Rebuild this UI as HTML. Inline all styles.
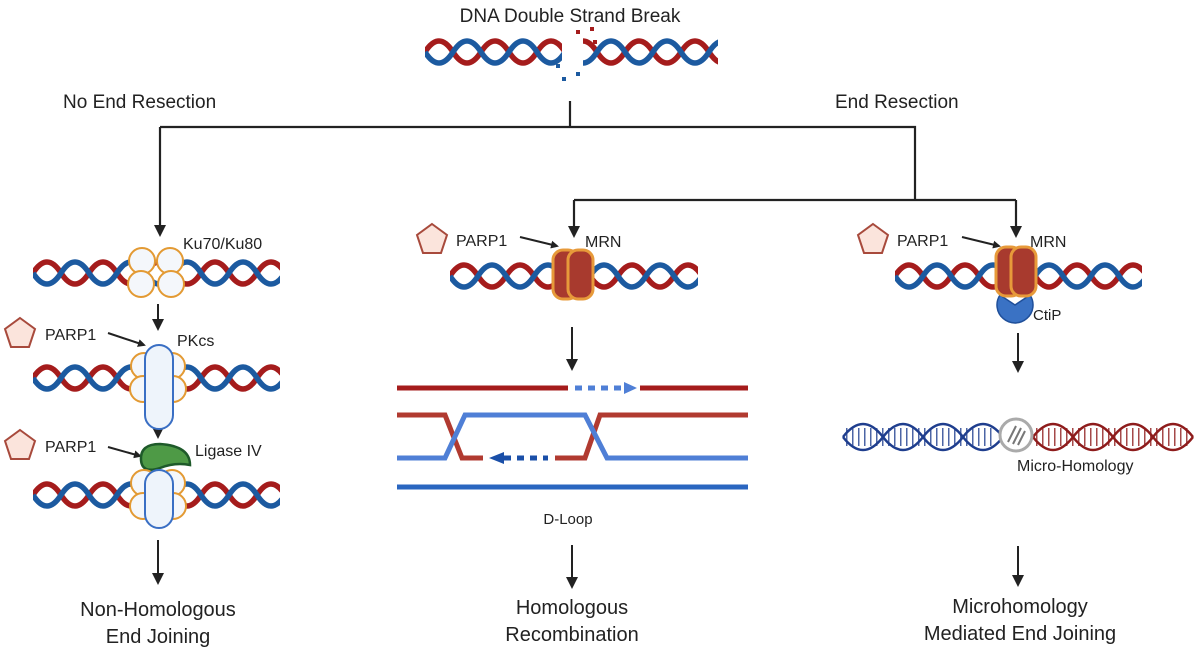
<!DOCTYPE html>
<html><head><meta charset="utf-8"><style>
html,body{margin:0;padding:0;background:#fff;}
svg{display:block;}
text{font-family:"Liberation Sans",sans-serif;fill:#222;}
</style></head><body>
<svg width="1200" height="653" viewBox="0 0 1200 653" xmlns="http://www.w3.org/2000/svg">
<defs>
<marker id="ah" markerWidth="8" markerHeight="8" refX="6" refY="4" orient="auto" markerUnits="userSpaceOnUse"><path d="M0,0 L8,4 L0,8 z" fill="#222"/></marker>
<marker id="ah2" markerWidth="12" markerHeight="12" refX="9" refY="6" orient="auto" markerUnits="userSpaceOnUse"><path d="M0,0 L12,6 L0,12 z" fill="#222"/></marker>
<g id="hx" fill="none" stroke-width="5.5">
<path stroke="#a51c1c" d="M0,0 q14,-22 28,0 t28,0 t28,0 t28,0 t28,0 t28,0 t28,0 t28,0 t28,0 t28,0"/>
<path stroke="#1c5aa0" d="M0,0 q14,22 28,0 t28,0 t28,0 t28,0 t28,0 t28,0 t28,0 t28,0 t28,0 t28,0"/>
</g>
<polygon id="pent" points="0,-16 15,-5 9,13 -9,13 -15,-5" fill="#fbe4dc" stroke="#a84a3c" stroke-width="2"/>
<g id="ku" fill="#f4f7fb" stroke="#e39a33" stroke-width="2">
<circle cx="-14" cy="-11" r="13"/><circle cx="14" cy="-11" r="13"/>
<circle cx="-15" cy="12" r="13"/><circle cx="15" cy="12" r="13"/>
</g>
<g id="mrn">
<rect x="-19" y="-25" width="25" height="49" rx="10" fill="#a83a2e" stroke="#e79a3a" stroke-width="3"/>
<rect x="-4" y="-25" width="25" height="49" rx="10" fill="#a83a2e" stroke="#e79a3a" stroke-width="3"/>
</g>
</defs>

<!-- Top -->
<text x="570" y="22" font-size="19" text-anchor="middle">DNA Double Strand Break</text>
<svg x="425" y="25" width="137" height="55" overflow="hidden"><use href="#hx" x="0" y="27"/></svg>
<svg x="583" y="25" width="135" height="55" overflow="hidden"><use href="#hx" x="-14" y="27"/></svg>
<g fill="#a51c1c"><rect x="576" y="30" width="4" height="4"/><rect x="590" y="27" width="4" height="4"/><rect x="593" y="40" width="4" height="4"/></g>
<g fill="#1c5aa0"><rect x="556" y="64" width="4" height="4"/><rect x="562" y="77" width="4" height="4"/><rect x="576" y="72" width="4" height="4"/></g>

<text x="63" y="108" font-size="19">No End Resection</text>
<text x="835" y="108" font-size="19">End Resection</text>

<g stroke="#222" stroke-width="2.2" fill="none">
<path d="M570,101 V127"/>
<path d="M160,127 H915 V200"/>
<path d="M160,127 V234" marker-end="url(#ah2)"/>
<path d="M574,200 H1016"/>
<path d="M574,200 V235" marker-end="url(#ah2)"/>
<path d="M1016,200 V235" marker-end="url(#ah2)"/>
</g>

<!-- NHEJ -->
<text x="183" y="249" font-size="16">Ku70/Ku80</text>
<svg x="33" y="245" width="247" height="55" overflow="hidden"><use href="#hx" x="0" y="28"/></svg>
<use href="#ku" x="156" y="272"/>
<g stroke="#222" stroke-width="2" fill="none">
<path d="M158,304 V328" marker-end="url(#ah2)"/>
<path d="M158,414 V436" marker-end="url(#ah2)"/>
<path d="M158,540 V582" marker-end="url(#ah2)"/>
<path d="M108,333 L144,345" marker-end="url(#ah)"/>
<path d="M108,447 L140,456" marker-end="url(#ah)"/>
</g>
<use href="#pent" x="20" y="334"/>
<text x="45" y="340" font-size="16">PARP1</text>
<text x="177" y="346" font-size="16">PKcs</text>
<svg x="33" y="350" width="247" height="55" overflow="hidden"><use href="#hx" x="0" y="28"/></svg>
<use href="#ku" x="158" y="377"/>
<rect x="145" y="345" width="28" height="84" rx="14" fill="#eef4fb" stroke="#3a6fc4" stroke-width="2"/>
<use href="#pent" x="20" y="446"/>
<text x="45" y="452" font-size="16">PARP1</text>
<path d="M141,460 Q140,444 160,444 Q190,446 190,465 Q175,462 160,468 Q142,474 141,460 z" fill="#4e9a46" stroke="#1e5a2a" stroke-width="2.5"/>
<text x="195" y="456" font-size="16">Ligase IV</text>
<svg x="33" y="467" width="247" height="55" overflow="hidden"><use href="#hx" x="0" y="28"/></svg>
<use href="#ku" x="158" y="494"/>
<rect x="145" y="470" width="28" height="58" rx="14" fill="#eef4fb" stroke="#3a6fc4" stroke-width="2"/>
<text x="158" y="616" font-size="20" text-anchor="middle">Non-Homologous</text>
<text x="158" y="643" font-size="20" text-anchor="middle">End Joining</text>

<!-- HR -->
<use href="#pent" x="432" y="240"/>
<text x="456" y="246" font-size="16">PARP1</text>
<text x="585" y="247" font-size="16">MRN</text>
<g stroke="#222" stroke-width="2" fill="none">
<path d="M520,237 L557,246" marker-end="url(#ah)"/>
<path d="M572,327 V368" marker-end="url(#ah2)"/>
<path d="M572,545 V586" marker-end="url(#ah2)"/>
<path d="M962,237 L999,246" marker-end="url(#ah)"/>
<path d="M1018,333 V370" marker-end="url(#ah2)"/>
<path d="M1018,546 V584" marker-end="url(#ah2)"/>
</g>
<svg x="450" y="248" width="248" height="55" overflow="hidden"><use href="#hx" x="0" y="28"/></svg>
<use href="#mrn" x="572" y="275"/>

<g fill="none" stroke-width="5">
<path stroke="#a51c1c" d="M397,388 H568 M640,388 H748"/>
<path stroke="#4f7fd6" stroke-dasharray="7,6" d="M575,388 H624"/>
<path stroke="#b13a30" d="M397,415 H445 L462,458 H483 M555,458 H585 L600,415 H748"/>
<path stroke="#4f7fd6" d="M397,458 H445 L465,415 H585 L607,458 H748"/>
<path stroke="#1a4fa8" stroke-dasharray="7,6" d="M504,458 H548"/>
<path stroke="#2a66c0" d="M397,487 H748"/>
</g>
<path d="M624,382 L637,388 L624,394 z" fill="#4f7fd6"/>
<path d="M504,452 L489,458 L504,464 z" fill="#1a4fa8"/>
<text x="568" y="524" font-size="15" text-anchor="middle">D-Loop</text>
<text x="572" y="614" font-size="20" text-anchor="middle">Homologous</text>
<text x="572" y="641" font-size="20" text-anchor="middle">Recombination</text>

<!-- MMEJ -->
<use href="#pent" x="873" y="240"/>
<text x="897" y="246" font-size="16">PARP1</text>
<text x="1030" y="247" font-size="16">MRN</text>
<svg x="895" y="248" width="247" height="55" overflow="hidden"><use href="#hx" x="0" y="28"/></svg>
<path d="M1000,295 A18,18 0 1 0 1030,295 L1015,305 z" fill="#3a72c4" stroke="#1f4f9a" stroke-width="1.5"/>
<use href="#mrn" x="1015" y="272"/>
<text x="1033" y="320" font-size="15">CtiP</text>
<g fill="none" stroke-width="2.5">
<path stroke="#1f3e8e" d="M843,437 q20,-26 40,0 t40,0 t40,0 t40,0"/>
<path stroke="#1f3e8e" d="M843,437 q20,26 40,0 t40,0 t40,0 t40,0"/>
<path stroke="#1f3e8e" stroke-width="18" stroke-dasharray="1.5,4.5" d="M846,437 H995" opacity="0.8"/>
<path stroke="#8e1c1c" d="M1033,437 q20,-26 40,0 t40,0 t40,0 t40,0"/>
<path stroke="#8e1c1c" d="M1033,437 q20,26 40,0 t40,0 t40,0 t40,0"/>
<path stroke="#8e1c1c" stroke-width="18" stroke-dasharray="1.5,4.5" d="M1036,437 H1190" opacity="0.8"/>
</g>
<circle cx="1016" cy="435" r="16" fill="#fff" stroke="#aaa" stroke-width="3"/>
<path d="M1008,442 L1016,426 M1013,444 L1021,428 M1018,445 L1025,431" stroke="#777" stroke-width="2"/>
<text x="1017" y="471" font-size="16">Micro-Homology</text>
<text x="1020" y="613" font-size="20" text-anchor="middle">Microhomology</text>
<text x="1020" y="640" font-size="20" text-anchor="middle">Mediated End Joining</text>
</svg>
</body></html>
